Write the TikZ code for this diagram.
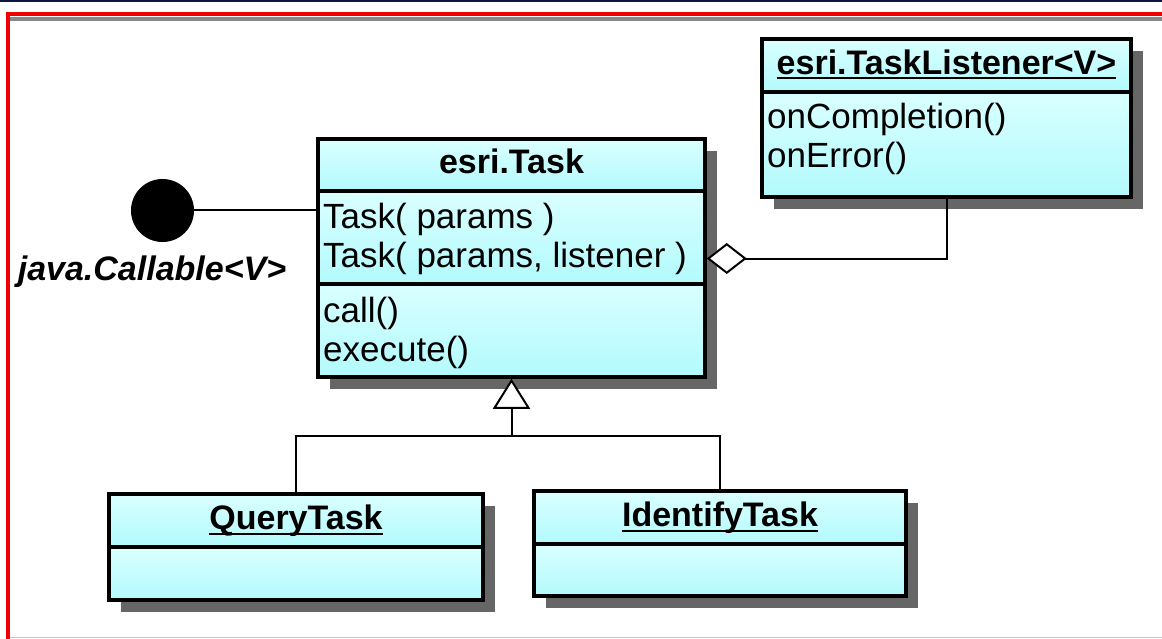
\documentclass[tikz,border=0pt]{standalone}
\usepackage{fontspec}
\setmainfont{Liberation Sans}
\usetikzlibrary{positioning,arrows.meta,shadows}

\definecolor{boxtop}{RGB}{218,255,255}
\definecolor{boxbottom}{RGB}{178,250,253}
\definecolor{shadowgray}{RGB}{102,102,102}
\definecolor{framered}{RGB}{240,0,0}
\definecolor{framegray}{RGB}{136,136,136}
\definecolor{framenavy}{RGB}{10,24,64}
\definecolor{framepink}{RGB}{255,176,176}

\newcommand{\uname}[1]{\setbox0=\hbox{#1}\rlap{\rule[-5pt]{\wd0}{2pt}}\box0}

\tikzset{
  compart/.style={draw=black, line width=3.5pt, outer sep=0pt, inner sep=0pt,
    top color=boxtop, bottom color=boxbottom,
    drop shadow={shadow xshift=12pt, shadow yshift=-12pt, fill=shadowgray, opacity=1}},
  head/.style={compart, font=\fontsize{34}{39}\selectfont\bfseries, text height=24pt, text depth=6pt},
  members/.style={anchor=north west, inner sep=0pt, align=left, font=\fontsize{35}{39}\selectfont},
  link/.style={line width=2pt}
}

\begin{document}
\begin{tikzpicture}[x=1pt,y=-1pt]
\useasboundingbox (0,0) rectangle (1162,639);
%----frame-------------------------------------
\fill[framenavy] (0,0) rectangle (1162,2.5);
\fill[framered] (6,12) rectangle (1162,16);
\fill[framered] (6,12) rectangle (10,639);
\fill[framegray] (10,17) rectangle (1162,21);
\draw[framepink, line width=1.5pt] (10,637.5) -- (1162,637.5);
%----esri.Task---------------------------------
\node[head, minimum width=387pt, minimum height=52pt] (task-head) at (511.5,165) {esri.Task};
\node[compart, minimum width=387pt, minimum height=93pt, below=0pt of task-head] (task-attr) {};
\node[compart, minimum width=387pt, minimum height=93pt, below=0pt of task-attr] (task-ops) {};
\node[members] (task-attr-txt) at ([shift={(5pt,-11.5pt)}]task-attr.north west) {Task( params )\\Task( params, listener )};
\node[members] (task-ops-txt) at ([shift={(5pt,-12.5pt)}]task-ops.north west) {call()\\execute()};
%----esri.TaskListener<V>----------------------
\node[head, minimum width=369pt, minimum height=53pt] (listener-head) at (946.5,65.5) {\uname{esri.TaskListener<V>}};
\node[compart, minimum width=369pt, minimum height=105pt, below=0pt of listener-head] (listener-ops) {};
\node[members] (listener-ops-txt) at ([shift={(5pt,-10.5pt)}]listener-ops.north west) {onCompletion()\\onError()};
%----QueryTask / IdentifyTask------------------
\node[head, minimum width=374pt, minimum height=53pt] (query-head) at (296,520.5) {\uname{QueryTask}};
\node[compart, minimum width=374pt, minimum height=53pt, below=0pt of query-head] (query-body) {};
\node[head, minimum width=372pt, minimum height=53pt] (identify-head) at (720,517.5) {\uname{IdentifyTask}};
\node[compart, minimum width=372pt, minimum height=52pt, below=0pt of identify-head] (identify-body) {};
%----java.Callable<V> lollipop-----------------
\node[circle, fill=black, minimum size=63pt, inner sep=0pt] (iface) at (162.5,210.5) {};
\node[anchor=base, font=\fontsize{34}{39}\selectfont\bfseries\itshape] (iface-name) at (152,280) {java.Callable<V>};
\draw[link] (iface) -- (iface -| task-attr.west);
%----aggregation-------------------------------
\draw[link, {Diamond[fill=white, length=40pt, width=31pt]}-] ([shift={(1.75pt,-21pt)}]task-attr.east) -| (listener-ops.south);
%----generalization----------------------------
\coordinate (join) at ([yshift=-59pt]task-ops.south);
\draw[link] (query-head.north) |- (join) -| (identify-head.north);
\draw[link, -{Triangle[fill=white, length=30pt, width=37pt]}] (join) -- ([yshift=-1.75pt]task-ops.south);
\end{tikzpicture}
\end{document}
